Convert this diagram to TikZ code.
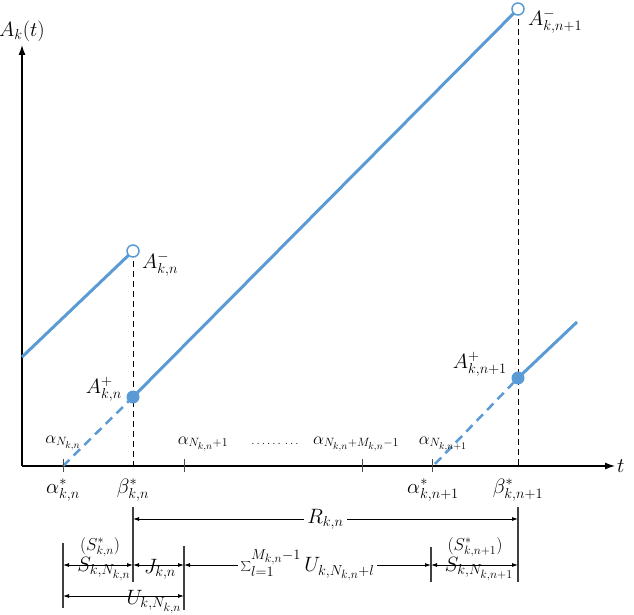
\documentclass[tikz,border=0pt]{standalone}
\usetikzlibrary{arrows.meta}
\definecolor{lblue}{RGB}{91,155,213}
\begin{document}
\begin{tikzpicture}[x=1pt,y=-1pt,
  lbl/.style={font=\fontsize{20.74}{24}\selectfont, inner sep=1pt},
  slbl/.style={font=\fontsize{17.28}{19}\selectfont, inner sep=1pt},
  axis/.style={line width=1.2pt, -{Latex[length=10pt,width=7pt]}},
  curve/.style={lblue, line width=3pt},
  dcurve/.style={lblue, line width=2.5pt, dash pattern=on 9pt off 6pt},
  vdash/.style={line width=1pt, dash pattern=on 6pt off 4pt},
  ocirc/.style={circle, draw=lblue, fill=white, line width=1.5pt, minimum size=12pt, inner sep=0pt},
  fcirc/.style={circle, fill=lblue, minimum size=13pt, inner sep=0pt},
  bar/.style={line width=1.5pt, draw=black!75},
  meas/.style={line width=0.8pt, {Latex[length=6pt,width=4pt]}-{Latex[length=6pt,width=4pt]}},
  axtick/.style={line width=0.6pt, draw=black!70},
]
\useasboundingbox (0,0) rectangle (634,615);

% axes
\coordinate (O) at (22,466);
\coordinate (Ytop) at (22,45);
\coordinate (Xend) at (615,466);
\draw[axis] (O) -- (Ytop);
\draw[axis] (O) -- (Xend);
\node[lbl] (ylab) at (22,31) {$A_k(t)$};
\node[lbl, anchor=west] (xlab) at (616,466) {$t$};

% key points
\coordinate (cAm) at (133,251);
\coordinate (cAp) at (133,397);
\coordinate (cAm1) at (518,9);
\coordinate (cAp1) at (518,378);
\coordinate (L1s) at (22,357);
\coordinate (as) at (63,466);
\coordinate (as1) at (435,464);
\coordinate (L3e) at (577,322);
\coordinate (bs) at (133,466);
\coordinate (bs1) at (518,466);

% vertical dashed lines
\draw[vdash] (cAm) -- (bs);
\draw[vdash] (cAm1) -- (bs1);

% blue lines
\draw[curve] (L1s) -- (cAm);
\draw[curve] (cAp) -- (cAm1);
\draw[curve] (cAp1) -- (L3e);
\draw[dcurve] (as) -- (cAp);
\draw[dcurve] (as1) -- (cAp1);

% circles
\node[ocirc] (Am) at (cAm) {};
\node[fcirc] (Ap) at (cAp) {};
\node[ocirc] (Am1) at (cAm1) {};
\node[fcirc] (Ap1) at (cAp1) {};

% point labels
\node[lbl, anchor=west] (tAm) at (141,264) {$A^-_{k,n}$};
\node[lbl, anchor=east] (tAp) at (123,389) {$A^+_{k,n}$};
\node[lbl, anchor=west] (tAm1) at (527,21) {$A^-_{k,n+1}$};
\node[lbl, anchor=east] (tAp1) at (508,364) {$A^+_{k,n+1}$};

% ticks
\foreach \x/\n in {63/t1,184/t2,362/t3,432/t4}{
  \coordinate (\n a) at (\x,459);
  \coordinate (\n b) at (\x,472);
  \draw[axtick] (\n a) -- (\n b);
}

% tick labels above axis
\node[slbl] (aN) at (63,443) {$\alpha_{N_{k,n}}$};
\node[slbl] (aN1) at (203,444) {$\alpha_{N_{k,n}+1}$};
\node[font=\fontsize{12}{14}\selectfont, inner sep=1pt] (dots) at (275,444) {$\ldots\ldots\,\ldots$};
\node[slbl] (aNM) at (356,444) {$\alpha_{N_{k,n}+M_{k,n}-1}$};
\node[slbl] (aNn1) at (443,444) {$\alpha_{N_{k,n+1}}$};

% labels below axis
\node[lbl] (las) at (63,490) {$\alpha^*_{k,n}$};
\node[lbl] (lbs) at (133,490) {$\beta^*_{k,n}$};
\node[lbl] (las1) at (433,490) {$\alpha^*_{k,n+1}$};
\node[lbl] (lbs1) at (518,490) {$\beta^*_{k,n+1}$};

% bars
\coordinate (b1a) at (133,507); \coordinate (b1b) at (133,582);
\coordinate (b2a) at (518,507); \coordinate (b2b) at (518,582);
\coordinate (b3a) at (63,543);  \coordinate (b3b) at (63,608);
\coordinate (b4a) at (184,546); \coordinate (b4b) at (184,610);
\coordinate (b5a) at (431,547); \coordinate (b5b) at (431,582);
\draw[bar] (b1a) -- (b1b);
\draw[bar] (b2a) -- (b2b);
\draw[bar] (b3a) -- (b3b);
\draw[bar] (b4a) -- (b4b);
\draw[bar] (b5a) -- (b5b);

% measurement arrows
\coordinate (r1) at (133,519); \coordinate (r2) at (518,519);
\draw[meas] (r1) -- node[lbl, fill=white, inner sep=3pt] (tR) {$R_{k,n}$} (r2);

\coordinate (m1) at (63,565); \coordinate (m2) at (133,565);
\coordinate (m3) at (184,565); \coordinate (m4) at (431,565);
\coordinate (m5) at (518,565);
\draw[meas] (m1) -- (m2);
\draw[meas] (m2) -- (m3);
\draw[meas] (m3) -- node[lbl, fill=white, inner sep=3pt, pos=0.5] (tSum) {$\sum_{l=1}^{M_{k,n}-1} U_{k,N_{k,n}+l}$} (m4);
\draw[meas] (m4) -- (m5);

\coordinate (u1) at (63,596); \coordinate (u2) at (184,596);
\draw[meas] (u1) -- (u2);

% measurement labels
\node[slbl] (tSs) at (100,547) {$(S^*_{k,n})$};
\node[lbl] (tS) at (104,569) {$S_{k,N_{k,n}}$};
\node[lbl] (tJ) at (160,569) {$J_{k,n}$};
\node[lbl] (tU) at (154,602) {$U_{k,N_{k,n}}$};
\node[slbl] (tSs1) at (475,547) {$(S^*_{k,n+1})$};
\node[lbl] (tS1) at (479,569) {$S_{k,N_{k,n+1}}$};
\end{tikzpicture}
\end{document}
